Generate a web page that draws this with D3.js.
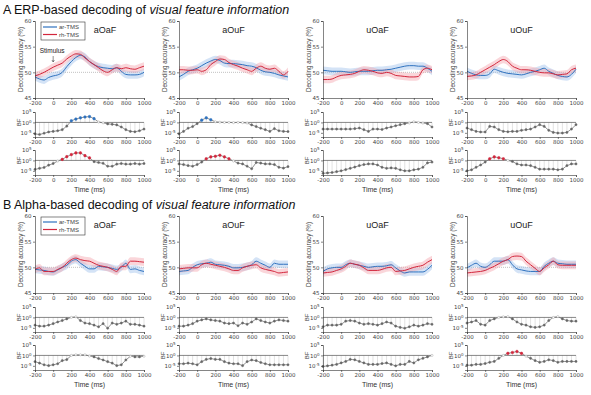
<!DOCTYPE html>
<html>
<head>
<meta charset="utf-8">
<script src="https://cdn.jsdelivr.net/npm/d3@7"></script>
<style>
	body { margin: 0; background: #fff; }
	svg { display: block; font-family: "Liberation Sans", Arial, sans-serif; }
</style>
</head>
<body>
<svg id="chart" width="591" height="395"></svg>
<script>
const times = [-200, -150, -100, -50, 0, 50, 100, 150, 200, 250, 300, 350, 400, 450, 500, 550, 600, 650, 700, 750, 800, 850, 900, 950, 1000];
const timeTicks = [-200, 0, 200, 400, 600, 800, 1000];
const accTicks = [45, 50, 55, 60];
const bfTicks = [5, 0, -5];
const conditions = ['aOaF', 'aOuF', 'uOaF', 'uOuF'];
const seriesNames = ['ar-TMS', 'rh-TMS'];
const sectionLetters = ['A', 'B'];
const sectionTitles = ['ERP-based decoding of ', 'Alpha-based decoding of '];
const chanceLevel = 50;
const bandHalfWidth = 0.75;

// decoding accuracy (%), one array per condition
const erpAr = [
	[49.1, 48.7, 48.5, 49.0, 49.3, 49.5, 50.0, 51.1, 52.1, 52.9, 53.3, 53.0, 52.1, 51.5, 51.1, 50.9, 50.8, 50.7, 50.9, 50.2, 49.6, 49.5, 49.5, 49.6, 50.0],
	[49.1, 49.6, 50.2, 50.5, 50.8, 51.3, 51.8, 52.2, 52.5, 52.3, 51.8, 51.7, 51.7, 51.6, 51.5, 51.3, 51.2, 50.9, 50.4, 50.1, 50.0, 49.8, 49.5, 49.3, 49.1],
	[50.4, 50.3, 50.2, 50.2, 50.2, 50.1, 50.0, 50.1, 50.2, 50.2, 50.2, 50.3, 50.4, 50.4, 50.5, 50.6, 50.8, 51.0, 51.2, 51.3, 51.3, 51.2, 51.2, 50.8, 50.2],
	[50.2, 49.8, 49.5, 49.4, 49.4, 49.7, 50.6, 50.3, 50.0, 49.8, 49.7, 49.6, 49.5, 49.7, 50.0, 50.2, 50.5, 50.8, 50.2, 49.8, 49.4, 49.2, 49.1, 49.6, 50.6]
];
const erpRh = [
	[49.3, 49.6, 50.0, 50.5, 51.0, 51.4, 51.8, 52.6, 53.2, 53.6, 53.5, 52.8, 52.1, 51.5, 50.9, 50.3, 50.0, 50.5, 50.9, 50.7, 50.9, 50.7, 50.6, 50.9, 51.2],
	[50.5, 50.5, 50.4, 50.4, 50.5, 50.2, 50.5, 51.5, 52.1, 52.6, 52.5, 51.9, 51.5, 51.2, 50.8, 50.5, 50.2, 50.8, 51.2, 50.8, 50.6, 50.8, 50.2, 49.5, 50.2],
	[48.6, 48.6, 48.7, 49.1, 49.4, 49.5, 49.6, 49.8, 50.2, 50.5, 50.4, 50.2, 49.9, 49.8, 50.0, 49.8, 49.4, 49.3, 49.2, 49.1, 49.1, 49.2, 50.5, 50.8, 50.5],
	[49.2, 49.3, 49.5, 50.0, 50.5, 51.0, 51.5, 52.1, 52.5, 52.1, 51.2, 50.8, 50.5, 50.5, 50.4, 50.2, 50.0, 49.9, 49.9, 49.7, 49.5, 49.6, 49.7, 50.5, 50.8]
];
const alphaAr = [
	[49.6, 49.5, 49.4, 49.2, 49.1, 49.5, 50.0, 50.4, 51.2, 51.5, 50.8, 50.2, 49.7, 49.7, 50.2, 50.1, 50.0, 49.8, 49.6, 50.0, 50.8, 49.6, 49.7, 49.4, 49.2],
	[49.2, 49.3, 49.4, 50.0, 50.5, 50.7, 50.8, 51.0, 50.6, 50.5, 50.4, 50.2, 49.9, 49.9, 50.0, 50.2, 50.5, 51.2, 50.8, 50.4, 50.0, 50.8, 50.6, 50.6, 50.6],
	[49.2, 49.7, 49.9, 50.0, 50.0, 50.5, 50.8, 50.6, 50.4, 50.2, 50.0, 50.1, 50.2, 50.2, 50.3, 50.5, 49.9, 49.3, 48.9, 49.1, 49.1, 49.1, 49.1, 49.6, 50.4],
	[49.9, 50.4, 50.8, 50.2, 50.0, 50.5, 51.2, 51.2, 51.2, 51.5, 50.5, 49.7, 49.5, 49.3, 49.2, 49.2, 49.2, 50.2, 50.8, 51.2, 50.8, 50.7, 50.6, 50.6, 50.6]
];
const alphaRh = [
	[49.6, 49.9, 49.2, 49.2, 49.2, 49.6, 50.0, 50.8, 51.5, 51.8, 51.5, 51.3, 51.2, 50.8, 50.4, 50.2, 50.0, 49.6, 49.2, 50.2, 50.2, 51.2, 51.2, 51.1, 51.0],
	[49.7, 49.8, 49.9, 49.9, 49.9, 50.5, 50.8, 50.6, 50.4, 50.2, 50.0, 49.7, 49.4, 49.4, 49.9, 50.2, 50.4, 50.5, 49.9, 49.6, 49.4, 49.2, 48.9, 49.0, 49.1],
	[48.9, 49.0, 49.1, 49.4, 49.7, 50.2, 50.8, 50.6, 50.4, 49.9, 49.4, 49.4, 49.4, 49.6, 49.9, 50.0, 49.2, 49.3, 49.4, 49.7, 50.0, 50.2, 50.4, 51.0, 51.5],
	[48.9, 49.0, 49.1, 49.2, 49.4, 49.8, 50.2, 50.7, 51.2, 51.5, 52.1, 52.2, 52.1, 51.2, 50.5, 49.8, 49.2, 49.9, 50.5, 51.2, 50.5, 50.4, 50.4, 50.4, 50.4]
];

// Bayes factors as log10(BF), one array per condition
const erpBfAr = [
	[-5.5, -5.8, -5.2, -4.6, -4.3, -4.0, -3.5, -1.8, 0.8, 1.6, 2.2, 2.6, 2.8, 1.8, 0.2, -0.2, -0.7, -0.9, -1.2, -2.2, -3.5, -4.3, -4.5, -4.0, -3.2],
	[-5.5, -4.3, -2.8, -2.0, -0.6, 1.1, 2.2, 1.3, 0.3, 0.1, 0.0, 0.0, -0.1, 0.0, -0.1, -0.3, -1.2, -2.0, -2.8, -3.5, -4.3, -3.0, -4.0, -4.3, -4.4],
	[-3.2, -3.2, -3.2, -3.2, -3.2, -3.2, -3.2, -3.0, -2.7, -3.5, -4.3, -3.2, -3.2, -3.4, -2.7, -2.2, -1.6, -1.1, -0.6, -0.3, 0.3, 0.0, -0.3, -0.6, -2.2],
	[-2.7, -3.5, -4.3, -4.6, -4.6, -1.9, -2.2, -3.5, -4.3, -4.5, -4.3, -4.3, -3.8, -3.5, -3.2, -2.2, -1.1, -1.9, -3.8, -4.8, -5.1, -5.1, -4.8, -3.2, -1.1]
];
const erpBfRh = [
	[-4.3, -3.8, -3.4, -2.3, -1.5, -0.3, 0.5, 1.8, 2.8, 3.6, 3.6, 2.3, 1.2, -0.6, -1.0, -1.4, -2.8, -2.8, -1.8, -1.5, -1.8, -1.8, -1.5, -1.8, -1.5],
	[-1.7, -2.0, -2.5, -2.8, -2.0, -0.8, 0.8, 1.7, 2.0, 2.5, 1.7, 0.8, -0.3, -1.3, -1.7, -2.8, -4.0, -1.0, -1.3, -1.7, -1.7, -2.0, -3.3, -3.7, -3.0],
	[-6.2, -6.0, -5.8, -5.4, -5.0, -4.4, -3.8, -3.2, -2.5, -2.0, -1.7, -1.7, -2.2, -3.3, -3.8, -3.6, -3.8, -4.5, -5.0, -5.0, -4.5, -4.2, -3.3, -1.2, -0.8],
	[-5.0, -4.5, -3.3, -2.2, -0.8, 0.8, 1.7, 1.3, 0.8, 0.0, -0.5, -1.7, -2.2, -2.2, -2.5, -3.3, -4.2, -4.2, -4.2, -4.2, -4.5, -4.2, -2.5, -1.7, -1.7]
];
const alphaBfAr = [
	[-3.7, -4.2, -4.2, -3.7, -3.0, -2.2, -1.5, -0.7, 0.0, 0.3, -1.5, -2.7, -3.0, -3.7, -4.5, -3.0, -5.2, -2.7, -3.3, -2.7, -1.8, -3.3, -3.3, -3.7, -4.2],
	[-4.2, -4.2, -3.7, -3.0, -1.8, -1.2, -0.7, -1.2, -1.5, -1.8, -2.7, -3.0, -2.7, -4.0, -2.7, -3.3, -2.2, -0.7, -1.5, -2.2, -2.7, -1.8, -1.2, -1.5, -1.8],
	[-4.5, -3.7, -3.7, -3.7, -3.3, -1.8, -1.5, -1.8, -2.7, -3.3, -3.0, -3.3, -3.7, -3.0, -2.2, -2.7, -4.2, -4.8, -5.2, -4.5, -3.7, -4.2, -3.7, -3.0, -3.3],
	[-2.7, -2.2, -1.5, -3.3, -3.7, -1.5, -0.7, 0.0, 0.3, 0.4, -0.7, -2.2, -3.3, -3.7, -4.5, -4.8, -4.5, -3.7, -1.5, 0.0, 0.4, -0.7, -1.5, -1.8, -1.8]
];
const alphaBfRh = [
	[-3.0, -3.7, -4.5, -4.9, -4.5, -4.0, -2.5, -2.0, 0.0, 0.3, 0.3, 0.3, -0.3, -0.7, -1.5, -2.2, -3.0, -3.7, -4.9, -4.5, -2.2, -0.4, -0.7, -0.7, -0.4],
	[-4.0, -4.0, -3.7, -4.0, -4.5, -3.0, -1.9, -1.5, -1.9, -1.9, -3.0, -3.7, -4.0, -4.0, -4.9, -3.0, -2.2, -2.5, -3.4, -4.0, -4.5, -4.5, -4.5, -4.5, -4.5],
	[-5.3, -5.0, -4.7, -4.3, -3.6, -2.9, -1.9, -2.1, -2.9, -3.6, -4.3, -4.3, -4.3, -3.9, -3.6, -4.3, -5.0, -4.3, -4.3, -2.9, -3.6, -2.1, -1.4, -0.7, 0.0],
	[-4.7, -4.7, -4.3, -4.3, -3.9, -3.3, -2.9, -1.4, 0.0, 1.0, 1.4, 1.9, 1.0, -0.4, -1.4, -2.5, -3.3, -2.9, -2.1, -2.5, -3.3, -2.9, -2.9, -2.9, -2.9]
];

const sections = [
	{ acc: [erpAr, erpRh], bf: [erpBfAr, erpBfRh] },
	{ acc: [alphaAr, alphaRh], bf: [alphaBfAr, alphaBfRh] }
];

const colors = ['#2f72bf', '#d3263c'];
const bandColors = ['#9fc2ea', '#f3a3ae'];
const axisColor = '#333';
const textColor = '#444';
const bfThreshold = Math.log10(3);

const colLeft = [35, 179, 323, 467];
const colWidth = 109;
const sectionTop = [21, 216];
const mainHeight = 77;
const bfOffsets = [91, 129];
const bfHeight = 25;

const svg = d3.select('#chart');

// plain hyphen minus, no thousands separator
const plainFormat = (d) => String(d);

function styleAxis(a) {
	a.select('.domain').attr('stroke', axisColor).attr('stroke-width', 0.6);
	a.selectAll('.tick line').attr('stroke', axisColor).attr('stroke-width', 0.6);
	a.selectAll('.tick text')
		.attr('fill', textColor)
		.style('font-size', '5.5px')
		.style('font-family', '"DejaVu Sans", sans-serif');
}

function drawMain(g, x, accSeries, col, sectionIndex) {
	let y = d3.scaleLinear().domain([45, 60]).range([mainHeight, 0]);

	g.append('line')
		.attr('x1', x(-200)).attr('x2', x(1000))
		.attr('y1', y(chanceLevel)).attr('y2', y(chanceLevel))
		.attr('stroke', '#999').attr('stroke-width', 0.6)
		.attr('stroke-dasharray', '1,1');

	let area = d3.area()
		.x((d, i) => x(times[i]))
		.y0((d) => y(d - bandHalfWidth))
		.y1((d) => y(d + bandHalfWidth))
		.curve(d3.curveMonotoneX);

	let line = d3.line()
		.x((d, i) => x(times[i]))
		.y((d) => y(d))
		.curve(d3.curveMonotoneX);

	accSeries.forEach((series, s) => {
		g.append('path')
			.attr('d', area(series[col]))
			.attr('fill', bandColors[s])
			.attr('fill-opacity', 0.45);
	});

	accSeries.forEach((series, s) => {
		g.append('path')
			.attr('d', line(series[col]))
			.attr('fill', 'none')
			.attr('stroke', colors[s])
			.attr('stroke-width', 1);
	});

	let yAxis = g.append('g')
		.call(d3.axisLeft(y).tickValues(accTicks).tickSize(2).tickPadding(1.5).tickFormat(plainFormat));

	let xAxis = g.append('g')
		.attr('transform', 'translate(0,' + mainHeight + ')')
		.call(d3.axisBottom(x).tickValues(timeTicks).tickSize(2).tickPadding(1.5).tickFormat(plainFormat));

	styleAxis(xAxis);
	styleAxis(yAxis);

	g.append('text')
		.attr('transform', 'translate(-12,' + (mainHeight / 2) + ') rotate(-90)')
		.attr('text-anchor', 'middle')
		.attr('fill', textColor)
		.style('font-size', '6.3px')
		.text('Decoding accuracy (%)');

	let titleX = col === 0 ? 70 : colWidth / 2;

	g.append('text')
		.attr('x', titleX)
		.attr('y', 12)
		.attr('text-anchor', 'middle')
		.attr('fill', '#222')
		.style('font-size', '9px')
		.text(conditions[col]);

	if (col === 0) {
		let legend = g.append('g').attr('transform', 'translate(6,1)');

		legend.append('rect')
			.attr('width', 44).attr('height', 18)
			.attr('fill', '#fff')
			.attr('stroke', axisColor).attr('stroke-width', 0.6);

		seriesNames.forEach((name, s) => {
			legend.append('line')
				.attr('x1', 2).attr('x2', 16)
				.attr('y1', 5 + s * 7.5).attr('y2', 5 + s * 7.5)
				.attr('stroke', colors[s]).attr('stroke-width', 1.2);

			legend.append('text')
				.attr('x', 18).attr('y', 7 + s * 7.5)
				.attr('fill', textColor)
				.style('font-size', '6px')
				.text(name);
		});
	}

	if (col === 0 && sectionIndex === 0) {
		let sx = x(0);

		g.append('text')
			.attr('x', sx - 1).attr('y', 32)
			.attr('text-anchor', 'middle')
			.attr('fill', '#222')
			.style('font-size', '6.5px')
			.text('Stimulus');

		g.append('path')
			.attr('d', 'M' + sx + ',35V41M' + (sx - 1.2) + ',39L' + sx + ',41L' + (sx + 1.2) + ',39')
			.attr('fill', 'none')
			.attr('stroke', '#444').attr('stroke-width', 0.6);
	}
}

function drawBf(g, x, values, s, showTime) {
	let y = d3.scaleLinear().domain([-7, 5]).range([bfHeight, 0]);

	g.selectAll('.stem')
		.data(values)
		.enter()
		.append('line')
		.attr('x1', (d, i) => x(times[i]))
		.attr('x2', (d, i) => x(times[i]))
		.attr('y1', y(0))
		.attr('y2', (d) => y(d))
		.attr('stroke', '#c4c4c4')
		.attr('stroke-width', 0.5);

	g.append('line')
		.attr('x1', 0).attr('x2', colWidth)
		.attr('y1', y(0)).attr('y2', y(0))
		.attr('stroke', '#555').attr('stroke-width', 0.7);

	g.append('path')
		.attr('d', d3.line().x((d, i) => x(times[i])).y((d) => y(d))(values))
		.attr('fill', 'none')
		.attr('stroke', '#777')
		.attr('stroke-width', 0.8);

	g.selectAll('.dot')
		.data(values)
		.enter()
		.append('circle')
		.attr('cx', (d, i) => x(times[i]))
		.attr('cy', (d) => y(d))
		.attr('r', (d) => d > bfThreshold ? 1.3 : 1.1)
		.attr('fill', (d) => {
			if (d > bfThreshold) {
				return colors[s];
			}
			return d < -bfThreshold ? '#666' : '#fff';
		})
		.attr('stroke', (d) => {
			if (d > bfThreshold) {
				return colors[s];
			}
			return d < -bfThreshold ? '#666' : '#aaa';
		})
		.attr('stroke-width', 0.5);

	let yAxis = g.append('g')
		.call(d3.axisLeft(y).tickValues(bfTicks).tickSize(2).tickPadding(1.5).tickFormat(''));

	yAxis.selectAll('.tick')
		.append('text')
		.attr('x', -3.5)
		.attr('dy', '0.32em')
		.attr('text-anchor', 'end')
		.attr('fill', textColor)
		.style('font-size', '5.5px')
		.style('font-family', '"DejaVu Sans", sans-serif')
		.each(function(d) {
			let t = d3.select(this);
			t.append('tspan').text('10');
			t.append('tspan')
				.attr('dy', '-0.5em')
				.style('font-size', '4px')
				.text(String(d));
		});

	let xAxis = g.append('g')
		.attr('transform', 'translate(0,' + bfHeight + ')')
		.call(d3.axisBottom(x).tickValues(timeTicks).tickSize(2).tickPadding(1.5).tickFormat(plainFormat));

	styleAxis(xAxis);
	yAxis.select('.domain').attr('stroke', axisColor).attr('stroke-width', 0.6);
	yAxis.selectAll('.tick line').attr('stroke', axisColor).attr('stroke-width', 0.6);

	g.append('text')
		.attr('transform', 'translate(-16,' + y(0) + ') rotate(-90)')
		.attr('text-anchor', 'middle')
		.attr('dy', '0.35em')
		.attr('fill', textColor)
		.style('font-size', '6px')
		.text('BF');

	if (showTime) {
		g.append('text')
			.attr('x', colWidth / 2)
			.attr('y', bfHeight + 17)
			.attr('text-anchor', 'middle')
			.attr('fill', '#333')
			.style('font-size', '7px')
			.text('Time (ms)');
	}
}

sections.forEach((section, k) => {
	let top = sectionTop[k];

	let title = svg.append('text')
		.attr('x', 3)
		.attr('y', top - 7)
		.attr('fill', '#111')
		.style('font-size', '12.5px');

	title.append('tspan').text(sectionLetters[k]);
	title.append('tspan').attr('x', 14).text(sectionTitles[k]);
	title.append('tspan').style('font-style', 'italic').text('visual feature information');

	conditions.forEach((c, col) => {
		let x = d3.scaleLinear().domain([-200, 1000]).range([0, colWidth]);

		let main = svg.append('g')
			.attr('transform', 'translate(' + colLeft[col] + ',' + top + ')');

		drawMain(main, x, section.acc, col, k);

		section.bf.forEach((bfSeries, s) => {
			let bfGroup = svg.append('g')
				.attr('transform', 'translate(' + colLeft[col] + ',' + (top + bfOffsets[s]) + ')');

			drawBf(bfGroup, x, bfSeries[col], s, s === 1);
		});
	});
});
</script>
</body>
</html>
